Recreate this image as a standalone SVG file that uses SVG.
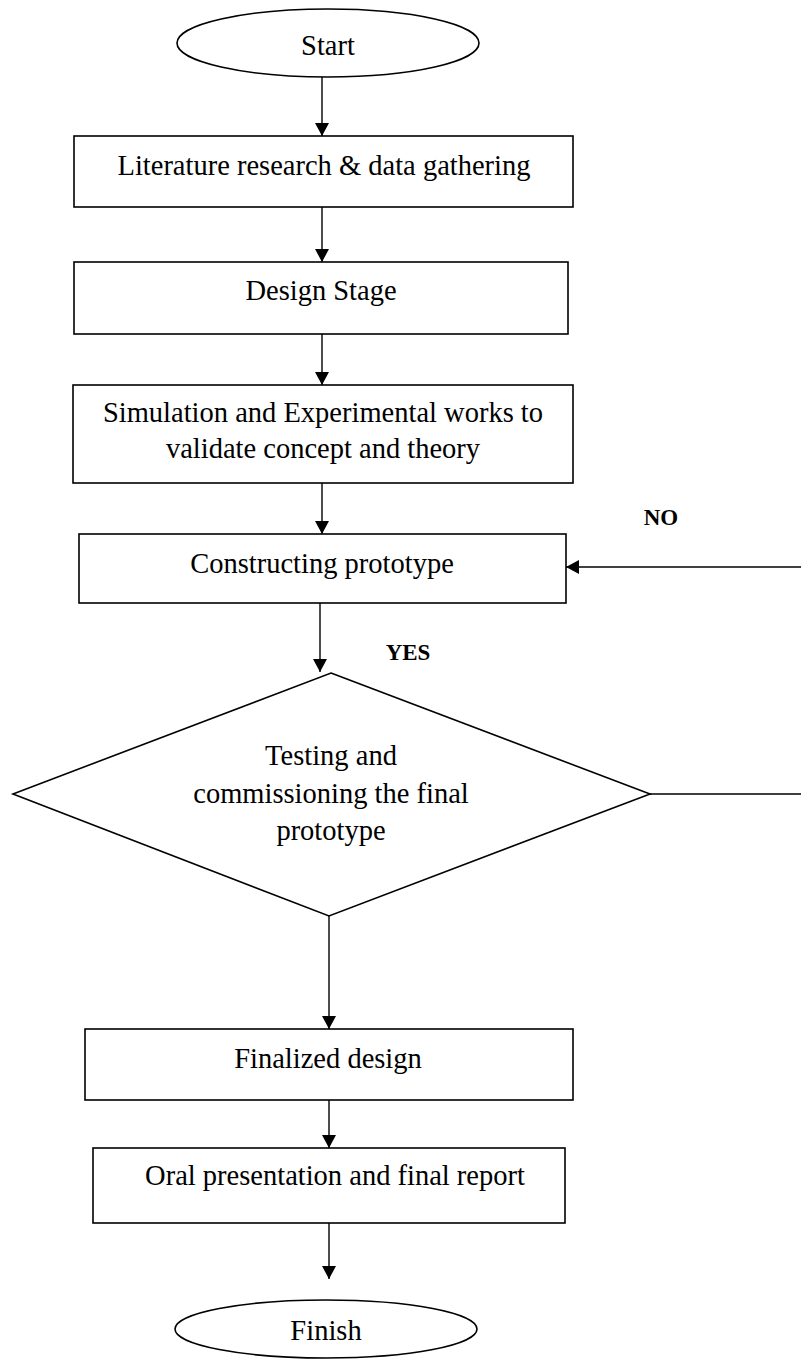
<svg xmlns="http://www.w3.org/2000/svg" width="801" height="1360" viewBox="0 0 801 1360">
<style>
.shape{fill:#fff;stroke:#000;stroke-width:1.6}
.line{fill:none;stroke:#000;stroke-width:1.4}
.t{font-family:"Liberation Serif","Times New Roman",serif;font-size:28.5px;fill:#000;text-anchor:middle}
.b{font-family:"Liberation Serif","Times New Roman",serif;font-size:23px;font-weight:bold;fill:#000;text-anchor:middle}
</style>
<defs>
<marker id="arr" markerUnits="userSpaceOnUse" markerWidth="14" markerHeight="14" viewBox="0 0 14 14" refX="13" refY="7" orient="auto">
<path d="M0,0 L13,7 L0,14 Z" fill="#000"/>
</marker>
</defs>
<rect width="801" height="1360" fill="#fff"/>
<g id="connectors">
<line class="line" x1="322" y1="77" x2="322" y2="136" marker-end="url(#arr)"/>
<line class="line" x1="322" y1="207" x2="322" y2="262" marker-end="url(#arr)"/>
<line class="line" x1="322" y1="334" x2="322" y2="385" marker-end="url(#arr)"/>
<line class="line" x1="322" y1="483" x2="322" y2="534" marker-end="url(#arr)"/>
<line class="line" x1="320" y1="603" x2="320" y2="672" marker-end="url(#arr)"/>
<line class="line" x1="801" y1="567" x2="566" y2="567" marker-end="url(#arr)"/>
<line class="line" x1="650" y1="794" x2="801" y2="794"/>
<line class="line" x1="329" y1="916" x2="329" y2="1029" marker-end="url(#arr)"/>
<line class="line" x1="329" y1="1100" x2="329" y2="1148" marker-end="url(#arr)"/>
<line class="line" x1="329" y1="1223" x2="329" y2="1279" marker-end="url(#arr)"/>
<text class="b" x="661" y="525">NO</text>
<text class="b" x="408" y="660">YES</text>
</g>
<g id="start">
<ellipse class="shape" cx="328" cy="43" rx="151" ry="34"/>
<text class="t" x="328" y="55">Start</text>
</g>
<g id="literature">
<rect class="shape" x="74" y="136" width="499" height="71"/>
<text class="t" x="324" y="175">Literature research &amp; data gathering</text>
</g>
<g id="design">
<rect class="shape" x="74" y="262" width="494" height="72"/>
<text class="t" x="321" y="300">Design Stage</text>
</g>
<g id="simulation">
<rect class="shape" x="73" y="385" width="500" height="98"/>
<text class="t" x="323" y="422">Simulation and Experimental works to</text>
<text class="t" x="323" y="458">validate concept and theory</text>
</g>
<g id="constructing">
<rect class="shape" x="79" y="534" width="487" height="69"/>
<text class="t" x="322" y="573">Constructing prototype</text>
</g>
<g id="testing">
<polygon class="shape" points="331,673 650,794 329,916 13,794"/>
<text class="t" x="331" y="765">Testing and</text>
<text class="t" x="331" y="803">commissioning the final</text>
<text class="t" x="331" y="840">prototype</text>
</g>
<g id="finalized">
<rect class="shape" x="85" y="1029" width="488" height="71"/>
<text class="t" x="328" y="1068">Finalized design</text>
</g>
<g id="oral">
<rect class="shape" x="93" y="1148" width="472" height="75"/>
<text class="t" x="335" y="1185">Oral presentation and final report</text>
</g>
<g id="finish">
<ellipse class="shape" cx="326" cy="1329" rx="151" ry="29"/>
<text class="t" x="326" y="1340">Finish</text>
</g>
</svg>
